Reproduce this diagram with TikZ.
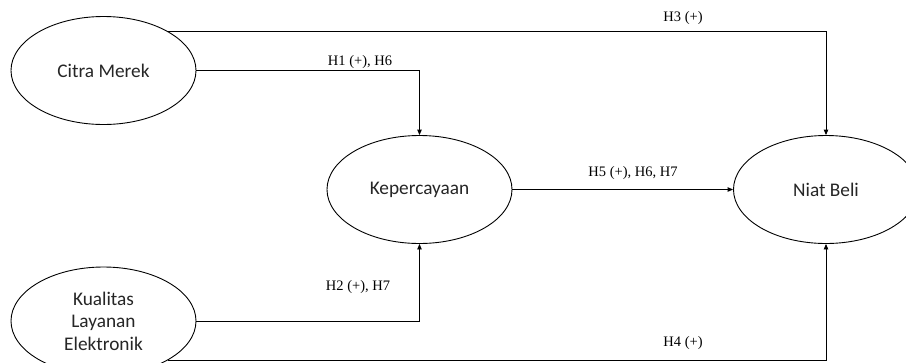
\documentclass[tikz,border=0pt]{standalone}
\usepackage{fontspec}
\setmainfont{Liberation Serif}
\newfontfamily\nodefont{Carlito}
\usetikzlibrary{shapes.geometric,arrows.meta}
\begin{document}
\begin{tikzpicture}[x=1pt,y=-1pt,
  construct/.style={ellipse,draw,line width=0.9pt,minimum width=185pt,minimum height=108pt,
    inner sep=0pt,align=center,font=\nodefont\fontsize{19.3}{22.5}\selectfont,text=black!85},
  path/.style={draw,line width=0.9pt,-{Triangle[length=5.5pt,width=4.5pt]}},
  hyp/.style={font=\fontsize{14.5}{16}\selectfont,inner sep=0pt}]
\clip (0,0) rectangle (906,362);
\fill[white] (0,0) rectangle (906,362);

% latent constructs
\node[construct] (cm) at (103.5,70.5) {Citra Merek};
\node[construct] (kp) at (419.5,189.5) {Kepercayaan};
\node[construct] (nb) at (826,189.5) {Niat Beli};
\node[construct] (kl) at (103.5,321) {Kualitas\\Layanan\\Elektronik};

% hypothesised paths
\draw[path] (cm.31) -| (nb.north);
\draw[path] (cm.east) -| (kp.north);
\draw[path] (kl.east) -| (kp.south);
\draw[path] (kl.-31) -| (nb.south);
\draw[path] (kp.east) -- (nb.west);

% path labels
\node[hyp] (h3) at (683,18) {H3 (+)};
\node[hyp] (h1) at (360,62) {H1 (+), H6};
\node[hyp] (h5) at (633,173) {H5 (+), H6, H7};
\node[hyp] (h2) at (358,287) {H2 (+), H7};
\node[hyp] (h4) at (683,343) {H4 (+)};
\end{tikzpicture}
\end{document}
